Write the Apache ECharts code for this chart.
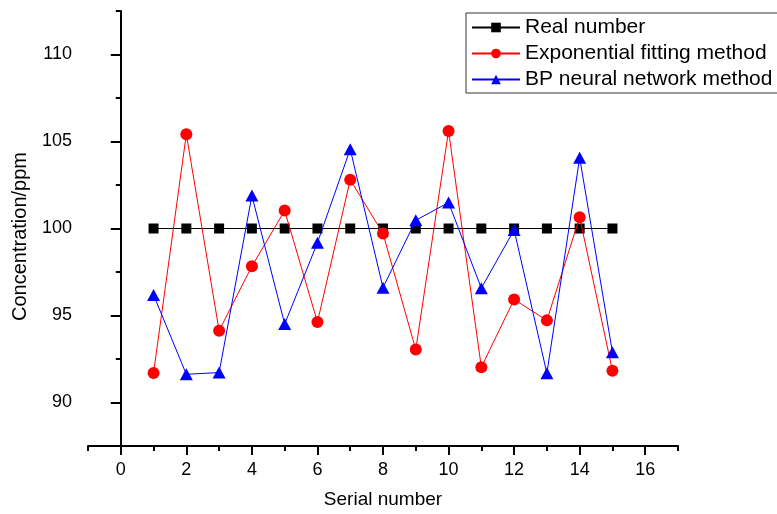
<!DOCTYPE html>
<html>
<head>
<meta charset="utf-8">
<script src="https://cdn.jsdelivr.net/npm/echarts@6/dist/echarts.min.js"></script>
<style>
  html, body { margin: 0; padding: 0; background: #fff; }
  #chart { width: 777px; height: 514px; }
</style>
</head>
<body>
<div id="chart"></div>
<script>
// data
var serial = [1, 2, 3, 4, 5, 6, 7, 8, 9, 10, 11, 12, 13, 14, 15];
var realNumber = [100, 100, 100, 100, 100, 100, 100, 100, 100, 100, 100, 100, 100, 100, 100];
var expFitting = [91.7, 105.42, 94.13, 97.83, 101.03, 94.62, 102.8, 99.71, 93.04, 105.61, 92.03, 95.92, 94.72, 100.65, 91.82];
var bpNetwork = [96.18, 91.62, 91.72, 101.89, 94.51, 99.18, 104.56, 96.6, 100.47, 101.49, 96.57, 99.92, 91.68, 104.06, 92.89];

// tick labels
var xLabels = [0, 2, 4, 6, 8, 10, 12, 14, 16];
var xMinor = [-1, 1, 3, 5, 7, 9, 11, 13, 15, 17];
var yLabels = [90, 95, 100, 105, 110];
var yMinor = [87.5, 92.5, 97.5, 102.5, 107.5, 112.5];

var FONT = '"Liberation Sans", Arial, sans-serif';

function pairs(ys) {
  var out = [];
  for (var i = 0; i < serial.length; i++) out.push([serial[i], ys[i]]);
  return out;
}

var chart = echarts.init(document.getElementById('chart'), null, { renderer: 'canvas' });

var option = {
  animation: false,
  backgroundColor: '#fff',
  textStyle: { fontFamily: FONT },
  grid: { left: 88, right: 99, top: 11, bottom: 67 },
  legend: {
    orient: 'vertical',
    left: 466,
    top: 13,
    padding: [4, 6, 3, 5],
    itemGap: 5,
    itemWidth: 48,
    itemHeight: 12,
    borderColor: '#333',
    borderWidth: 1,
    textStyle: { fontSize: 21, lineHeight: 21, color: '#000', fontFamily: FONT },
    data: ['Real number', 'Exponential fitting method', 'BP neural network method']
  },
  xAxis: [
    {
      type: 'value',
      min: -1,
      max: 17,
      position: 'bottom',
      name: 'Serial number',
      nameLocation: 'middle',
      nameGap: 44,
      nameTextStyle: { fontSize: 19, color: '#000', fontFamily: FONT },
      axisLine: { lineStyle: { color: '#000', width: 2 } },
      axisTick: { customValues: xLabels, length: 9, lineStyle: { color: '#000', width: 2 } },
      axisLabel: { customValues: xLabels, fontSize: 18, color: '#000', margin: 15, fontFamily: FONT },
      splitLine: { show: false }
    },
    {
      type: 'value',
      min: -1,
      max: 17,
      position: 'bottom',
      offset: 0,
      axisLine: { show: false },
      axisTick: { customValues: xMinor, length: 5, lineStyle: { color: '#000', width: 2 } },
      axisLabel: { show: false },
      splitLine: { show: false }
    }
  ],
  yAxis: [
    {
      type: 'value',
      min: 87.5,
      max: 112.5,
      position: 'left',
      name: 'Concentration/ppm',
      nameLocation: 'middle',
      nameGap: 58,
      nameTextStyle: { fontSize: 20, color: '#000', fontFamily: FONT, padding: [0, 16, 0, 0] },
      axisLine: { lineStyle: { color: '#000', width: 2 } },
      axisTick: { customValues: yLabels, length: 10, lineStyle: { color: '#000', width: 2 } },
      axisLabel: { customValues: yLabels, fontSize: 18, color: '#000', margin: 16, fontFamily: FONT },
      splitLine: { show: false }
    },
    {
      type: 'value',
      min: 87.5,
      max: 112.5,
      position: 'left',
      offset: 0,
      axisLine: { show: false },
      axisTick: { customValues: yMinor, length: 5, lineStyle: { color: '#000', width: 2 } },
      axisLabel: { show: false },
      splitLine: { show: false }
    }
  ],
  series: [
    {
      name: 'Real number',
      type: 'line',
      data: pairs(realNumber),
      symbol: 'rect',
      symbolSize: 10,
      lineStyle: { color: '#000', width: 1 },
      itemStyle: { color: '#000' },
      z: 2
    },
    {
      name: 'Exponential fitting method',
      type: 'line',
      data: pairs(expFitting),
      symbol: 'circle',
      symbolSize: 12,
      lineStyle: { color: '#ff0000', width: 1 },
      itemStyle: { color: '#ff0000' },
      z: 3
    },
    {
      name: 'BP neural network method',
      type: 'line',
      data: pairs(bpNetwork),
      symbol: 'triangle',
      symbolSize: [13, 12],
      lineStyle: { color: '#0000ff', width: 1 },
      itemStyle: { color: '#0000ff' },
      z: 4
    }
  ]
};

chart.setOption(option);
</script>
</body>
</html>
